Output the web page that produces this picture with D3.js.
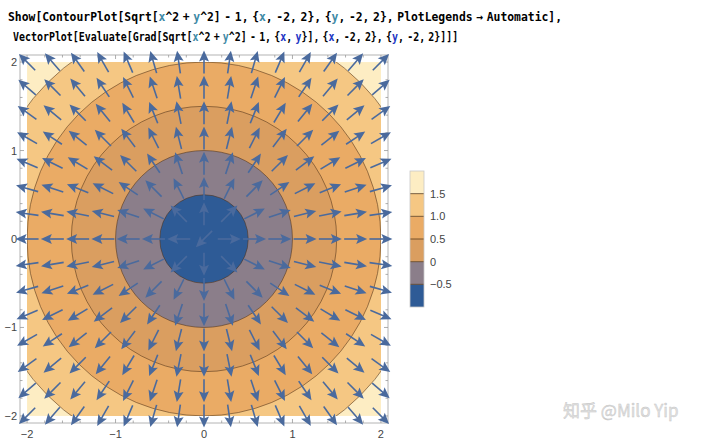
<!DOCTYPE html>
<html><head><meta charset="utf-8">
<script src="https://cdn.jsdelivr.net/npm/d3@7"></script>
<style>body{margin:0;background:#fff}svg{display:block}</style>
</head><body>
<svg id="c" width="720" height="446"></svg>
<script>
// ---------- data ----------
const tickValues = [-2, -1, 0, 1, 2];
const tickLabels = ["\u22122", "\u22121", "0", "1", "2"];
const contourLevels = [-0.5, 0, 0.5, 1.0, 1.5];
const levelLabels = ["\u22120.5", "0", "0.5", "1.0", "1.5"];
const bandColors = ["#2e5b96", "#8b7e8a", "#da9e60", "#eaab65", "#f5c783", "#fdedc3"]; // low -> high
const plotRange = [-2, 2];
const vectorPointsPerSide = 15;
const fn = (x, y) => Math.sqrt(x * x + y * y) - 1;
const gradFn = (x, y) => { const r = Math.hypot(x, y); return r === 0 ? [-Math.SQRT1_2, -Math.SQRT1_2] : [x / r, y / r]; };
const codeLine1 = [["Show[ContourPlot[Sqrt[", "k"], ["x", "t"], ["^2 + ", "k"], ["y", "t"], ["^2] - 1, {", "k"], ["x", "t"], [", -2, 2}, {", "k"], ["y", "t"], [", -2, 2}, PlotLegends \u2192 Automatic],", "k"]];
const codeLine2 = [["VectorPlot[Evaluate[Grad[Sqrt[", "k"], ["x", "t"], ["^2 + ", "k"], ["y", "t"], ["^2] - 1, {", "k"], ["x", "b"], [", ", "k"], ["y", "b"], ["}], {", "k"], ["x", "b"], [", -2, 2}, {", "k"], ["y", "b"], [", -2, 2}]]]", "k"]];
const codeColors = { k: "#000", t: "#3f8aa6", b: "#2236c4" };

// ---------- layout ----------
const svg = d3.select("#c");
const pad = 0.08;
const x = d3.scaleLinear().domain([plotRange[0] - pad, plotRange[1] + pad]).range([20, 388]);
const y = d3.scaleLinear().domain([plotRange[0] - pad, plotRange[1] + pad]).range([423, 55]);

// code text (scaled horizontally to the reference width)
function codeText(segs, x0, yb, len) {
  const gg = svg.append("g");
  const t = gg.append("text").attr("x", 0).attr("y", 0)
    .attr("font-family", "'DejaVu Sans Mono', monospace").attr("font-weight", "bold")
    .attr("font-size", 12.5).attr("word-spacing", -3.5).style("white-space", "pre");
  segs.forEach(s => t.append("tspan").attr("fill", codeColors[s[1]]).text(s[0]));
  const w = t.node().getComputedTextLength();
  gg.attr("transform", `translate(${x0},${yb}) scale(${len / w},1)`);
}
codeText(codeLine1, 8, 21, 555);
codeText(codeLine2, 13, 41, 446);

// clip for contour region
svg.append("clipPath").attr("id", "clipC").append("rect")
  .attr("x", x(plotRange[0])).attr("y", y(plotRange[1]))
  .attr("width", x(plotRange[1]) - x(plotRange[0])).attr("height", y(plotRange[0]) - y(plotRange[1]));

const g = svg.append("g").attr("clip-path", "url(#clipC)");
g.append("rect").attr("x", x(plotRange[0])).attr("y", y(plotRange[1]))
  .attr("width", x(plotRange[1]) - x(plotRange[0])).attr("height", y(plotRange[0]) - y(plotRange[1]))
  .attr("fill", bandColors[bandColors.length - 1]);
// f = r - 1 < level  <=> r < level + 1
const levelsDesc = contourLevels.map((l, i) => ({ l, i })).reverse();
g.selectAll("circle.band").data(levelsDesc).join("circle").attr("class", "band")
  .attr("cx", x(0)).attr("cy", y(0))
  .attr("r", d => x(d.l + 1) - x(0))
  .attr("fill", d => bandColors[d.i]);
g.selectAll("circle.line").data(contourLevels).join("circle").attr("class", "line")
  .attr("cx", x(0)).attr("cy", y(0))
  .attr("r", d => x(d + 1) - x(0))
  .attr("fill", "none").attr("stroke", "#4e3218").attr("stroke-opacity", 0.55).attr("stroke-width", 1);

// frame + ticks
svg.append("rect").attr("x", x.range()[0]).attr("y", y.range()[1])
  .attr("width", x.range()[1] - x.range()[0]).attr("height", y.range()[0] - y.range()[1])
  .attr("fill", "none").attr("stroke", "#b4b4b4").attr("stroke-width", 1);
const minor = d3.range(-20, 21, 2).map(v => v / 10).filter(v => !tickValues.includes(v));
const tk = svg.append("g").attr("stroke", "#999").attr("stroke-width", 0.8);
[[tickValues, 4], [minor, 2.5]].forEach(([vals, len]) => {
  vals.forEach(v => {
    tk.append("line").attr("x1", x(v)).attr("x2", x(v)).attr("y1", y.range()[0]).attr("y2", y.range()[0] - len);
    tk.append("line").attr("x1", x(v)).attr("x2", x(v)).attr("y1", y.range()[1]).attr("y2", y.range()[1] + len);
    tk.append("line").attr("y1", y(v)).attr("y2", y(v)).attr("x1", x.range()[0]).attr("x2", x.range()[0] + len);
    tk.append("line").attr("y1", y(v)).attr("y2", y(v)).attr("x1", x.range()[1]).attr("x2", x.range()[1] - len);
  });
});
const lab = { "font-family": "'Liberation Sans', Arial, sans-serif", "font-size": 11, fill: "#444" };
function applyAttrs(sel, o) { Object.entries(o).forEach(([k, v]) => sel.attr(k, v)); return sel; }
tickValues.forEach((v, i) => {
  applyAttrs(svg.append("text"), lab).attr("x", x(v)).attr("y", 438).attr("text-anchor", "middle").text(tickLabels[i]);
  applyAttrs(svg.append("text"), lab).attr("x", 17).attr("y", y(v) + 4).attr("text-anchor", "end").text(tickLabels[i]);
});

// vectors
const vp = d3.range(vectorPointsPerSide).map(i => plotRange[0] + i * (plotRange[1] - plotRange[0]) / (vectorPointsPerSide - 1));
const vecs = [];
vp.forEach(a => vp.forEach(b => { const d = gradFn(a, b); vecs.push({ px: a, py: b, ux: d[0], uy: d[1] }); }));
const L = 23, HL = 11, HW = 10;
const arrowColor = "#4a6a9d";
const ag = svg.append("g");
vecs.forEach(v => {
  const cx = x(v.px), cy = y(v.py);
  const dx = v.ux, dy = -v.uy; // screen direction
  const nx = -dy, ny = dx;
  const tx = cx + dx * L / 2, ty = cy + dy * L / 2;
  const sx = cx - dx * L / 2, sy = cy - dy * L / 2;
  ag.append("line").attr("x1", sx).attr("y1", sy).attr("x2", tx - dx * HL * 0.7).attr("y2", ty - dy * HL * 0.7)
    .attr("stroke", arrowColor).attr("stroke-width", 1.6);
  const bx = tx - dx * HL, by = ty - dy * HL;
  const mx = tx - dx * HL * 0.8, my = ty - dy * HL * 0.8;
  ag.append("path").attr("d", `M${tx},${ty}L${bx + nx * HW / 2},${by + ny * HW / 2}L${mx},${my}L${bx - nx * HW / 2},${by - ny * HW / 2}Z`)
    .attr("fill", arrowColor);
});

// legend
const bandIdx = d3.range(bandColors.length);
const ly = d3.scaleBand().domain(bandIdx.slice().reverse()).range([171, 307]);
const lg = svg.append("g");
lg.selectAll("rect").data(bandIdx).join("rect")
  .attr("x", 410).attr("width", 14).attr("y", d => ly(d)).attr("height", ly.bandwidth())
  .attr("fill", d => bandColors[d]);
contourLevels.forEach((l, i) => {
  const yb = ly(i); // top edge of band i = boundary at level i
  lg.append("line").attr("x1", 410).attr("x2", 424).attr("y1", yb).attr("y2", yb)
    .attr("stroke", "#5a3c1c").attr("stroke-opacity", 0.8).attr("stroke-width", 1);
  applyAttrs(lg.append("text"), lab).attr("x", 430).attr("y", yb + 4).text(levelLabels[i]);
});
lg.append("rect").attr("x", 410).attr("y", 171).attr("width", 14).attr("height", 136)
  .attr("fill", "none").attr("stroke", "#c8c8c8").attr("stroke-width", 0.8);

// watermark
svg.append("text").attr("x", 563).attr("y", 417)
  .attr("font-family", "'Noto Sans CJK SC', sans-serif").attr("font-size", 17)
  .attr("fill", "#e2e2e2").attr("stroke", "#c4c4c4").attr("stroke-width", 0.4)
  .text("知乎 @Milo Yip");
</script>
</body></html>
